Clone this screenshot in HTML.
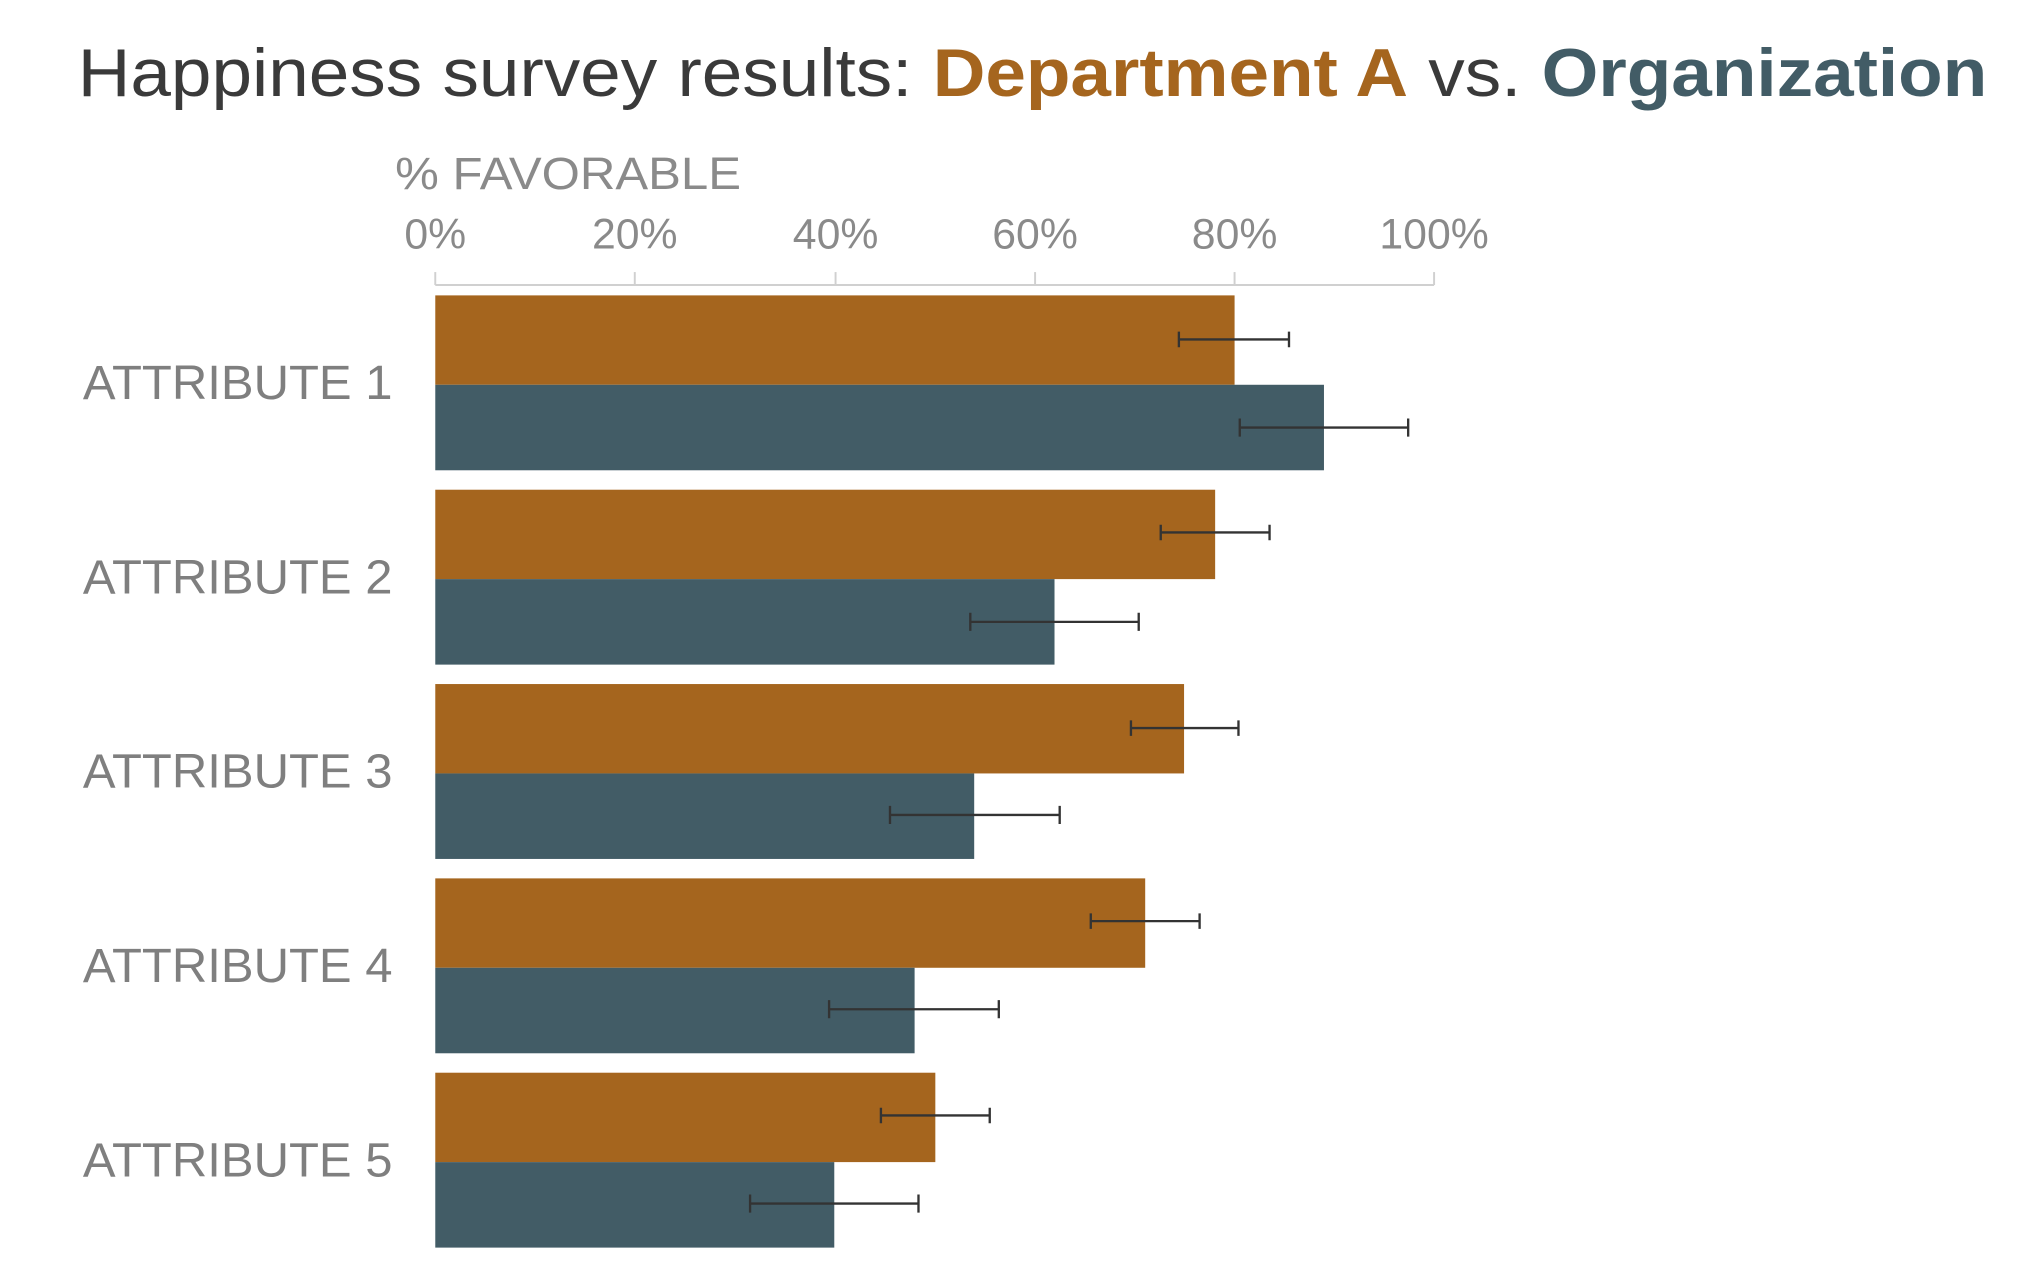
<!DOCTYPE html>
<html><head><meta charset="utf-8"><style>
html,body{margin:0;padding:0;background:#fff;}
svg{display:block;}
</style></head><body>
<svg width="2030" height="1280" viewBox="0 0 1567 988" preserveAspectRatio="none" xmlns="http://www.w3.org/2000/svg" font-family="Liberation Sans, Arial, sans-serif">
<rect width="1567" height="988" fill="#fff"/>
<text x="60" y="74" font-size="52" fill="#3a3a3a" textLength="1474" lengthAdjust="spacingAndGlyphs">Happiness survey results: <tspan fill="#A5651E" font-weight="bold">Department A</tspan> vs. <tspan fill="#425C66" font-weight="bold">Organization</tspan></text>
<text x="305" y="146" font-size="35" fill="#8a8a8a" textLength="267" lengthAdjust="spacingAndGlyphs">% FAVORABLE</text>
<g font-size="33" fill="#8a8a8a" text-anchor="middle">
<text x="336" y="192">0%</text><text x="490" y="192">20%</text><text x="645" y="192">40%</text><text x="799" y="192">60%</text><text x="953" y="192">80%</text><text x="1107" y="192">100%</text>
</g>
<g stroke="#d0d0d0" stroke-width="1.5">
<line x1="336" y1="220" x2="1107" y2="220"/>
<line x1="336" y1="210" x2="336" y2="220"/><line x1="490" y1="210" x2="490" y2="220"/><line x1="645" y1="210" x2="645" y2="220"/><line x1="799" y1="210" x2="799" y2="220"/><line x1="953" y1="210" x2="953" y2="220"/><line x1="1107" y1="210" x2="1107" y2="220"/>
</g>
<g font-size="37" fill="#7f7f7f" text-anchor="end">
<text x="303" y="308" textLength="239" lengthAdjust="spacingAndGlyphs">ATTRIBUTE 1</text><text x="303" y="458" textLength="239" lengthAdjust="spacingAndGlyphs">ATTRIBUTE 2</text><text x="303" y="608" textLength="239" lengthAdjust="spacingAndGlyphs">ATTRIBUTE 3</text><text x="303" y="758" textLength="239" lengthAdjust="spacingAndGlyphs">ATTRIBUTE 4</text><text x="303" y="908" textLength="239" lengthAdjust="spacingAndGlyphs">ATTRIBUTE 5</text>
</g>
<g fill="#A5651E">
<rect x="336" y="228" width="617" height="69"/>
<rect x="336" y="378" width="602" height="69"/>
<rect x="336" y="528" width="578" height="69"/>
<rect x="336" y="678" width="548" height="69"/>
<rect x="336" y="828" width="386" height="69"/>
</g>
<g fill="#425C66">
<rect x="336" y="297" width="686" height="66"/>
<rect x="336" y="447" width="478" height="66"/>
<rect x="336" y="597" width="416" height="66"/>
<rect x="336" y="747" width="370" height="66"/>
<rect x="336" y="897" width="308" height="66"/>
</g>
<g stroke="#333" stroke-width="1.8">
<path d="M910 262H995M910 256V268M995 256V268"/>
<path d="M957 330H1087M957 323V337M1087 323V337"/>
<path d="M896 411H980M896 405V417M980 405V417"/>
<path d="M749 480H879M749 473V487M879 473V487"/>
<path d="M873 562H956M873 556V568M956 556V568"/>
<path d="M687 629H818M687 622V636M818 622V636"/>
<path d="M842 711H926M842 705V717M926 705V717"/>
<path d="M640 779H771M640 772V786M771 772V786"/>
<path d="M680 861H764M680 855V867M764 855V867"/>
<path d="M579 929H709M579 922V936M709 922V936"/>
</g>
</svg>
</body></html>
